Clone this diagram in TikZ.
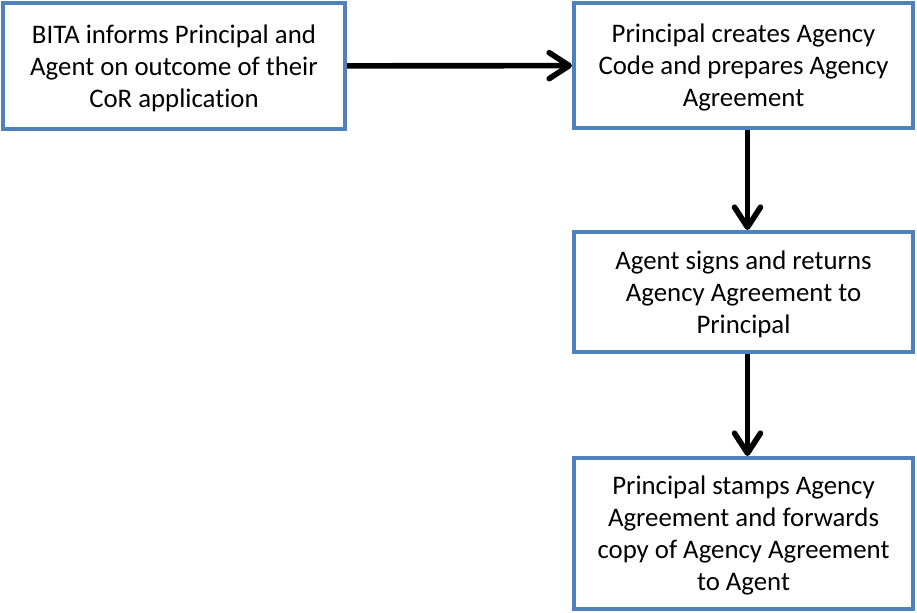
\documentclass[tikz,border=0pt]{standalone}
\usepackage{fontspec}
\setmainfont{Carlito}[RawFeature={-liga;-clig;-calt}]
\usetikzlibrary{arrows.meta}
\definecolor{boxblue}{HTML}{4F81BD}
\begin{document}
\begin{tikzpicture}[x=0.5pt,y=-0.5pt,
    stepbox/.style={draw=boxblue,line width=2pt,fill=white,
      minimum width=169.5pt,inner sep=0pt,align=center,text depth=-1pt,
      font=\fontsize{13.4}{16}\selectfont},
    flow/.style={line width=2.8pt,
      -{Straight Barb[length=10pt,width=13pt,line cap=round,line join=round]}}]
  \useasboundingbox (0,0) rectangle (917,613);
  \node[stepbox,minimum width=171pt,minimum height=63pt] (inform) at (174,66)
    {BITA informs Principal and\\Agent on outcome of their\\CoR application};
  \node[stepbox,minimum height=62.5pt] (code) at (743.5,65.5)
    {Principal creates Agency\\Code and prepares Agency\\Agreement};
  \node[stepbox,minimum height=60pt] (sign) at (743.5,292)
    {Agent signs and returns\\Agency Agreement to\\Principal};
  \node[stepbox,minimum height=75.5pt] (stamp) at (743.5,533.5)
    {Principal stamps Agency\\Agreement and forwards\\copy of Agency Agreement\\to Agent};
  \begin{scope}[flow]
    \draw (inform) to (code);
    \draw ([xshift=2pt]code.south) to ([xshift=2pt]sign.north);
    \draw ([xshift=2pt]sign.south) to ([xshift=2pt]stamp.north);
  \end{scope}
\end{tikzpicture}
\end{document}
